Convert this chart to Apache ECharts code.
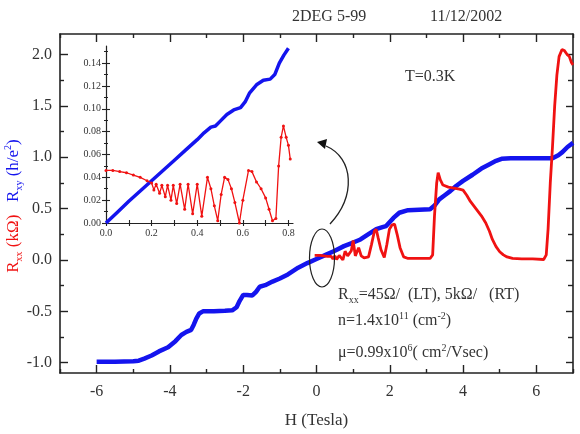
<!DOCTYPE html>
<html lang="en">
<head>
<meta charset="UTF-8">
<title>2DEG 5-99</title>
<script src="https://cdn.jsdelivr.net/npm/echarts@6/dist/echarts.min.js"></script>
<style>html,body{margin:0;padding:0;background:#fff}</style>
</head>
<body>
<div id="main" style="width:580px;height:434px"></div>
<script>
var FONT = '"Liberation Serif", "Times New Roman", serif';
var BLUE = '#1414ee';
var RED = '#f01212';
var INK = '#333';

// main plot: Hall resistance Rxy (h/e^2) vs H (Tesla)
var hXY = [-6.0,-5.5,-5.0,-4.85,-4.7,-4.5,-4.3,-4.05,-3.85,-3.69,-3.55,-3.42,-3.35,-3.28,-3.2,-3.1,-2.8,-2.5,-2.3,-2.18,-2.1,-2.0,-1.9,-1.75,-1.65,-1.55,-1.4,-1.2,-1.0,-0.78,-0.5,-0.25,0,0.25,0.5,0.75,1.0,1.2,1.45,1.63,1.8,1.9,2.0,2.1,2.26,2.5,2.8,3.1,3.22,3.35,3.5,3.65,3.81,4.0,4.26,4.5,4.71,4.9,5.05,5.3,5.8,6.44,6.6,6.71,6.85,7.0];
var rXY = [-0.99,-0.99,-0.985,-0.98,-0.96,-0.93,-0.89,-0.85,-0.79,-0.73,-0.70,-0.68,-0.63,-0.57,-0.52,-0.50,-0.50,-0.495,-0.49,-0.46,-0.40,-0.34,-0.34,-0.345,-0.31,-0.26,-0.245,-0.21,-0.18,-0.14,-0.075,-0.03,0.01,0.05,0.09,0.135,0.17,0.20,0.26,0.30,0.32,0.33,0.37,0.41,0.46,0.485,0.49,0.495,0.53,0.59,0.63,0.67,0.72,0.77,0.83,0.89,0.93,0.965,0.985,0.99,0.99,0.99,1.02,1.05,1.10,1.14];

// main plot: longitudinal resistance Rxx (kOhm) vs H (Tesla)
var hXX = [-0.05,0.1,0.2,0.3,0.35,0.4,0.45,0.5,0.55,0.62,0.72,0.78,0.85,0.95,1.0,1.06,1.15,1.22,1.3,1.42,1.5,1.58,1.63,1.68,1.76,1.85,1.92,1.99,2.06,2.13,2.2,2.28,2.38,2.5,2.8,3.1,3.17,3.22,3.28,3.32,3.38,3.45,3.6,3.75,3.9,4.0,4.1,4.2,4.35,4.5,4.62,4.72,4.8,4.9,5.0,5.1,5.2,5.35,5.6,5.9,6.2,6.27,6.32,6.38,6.44,6.5,6.56,6.62,6.7,6.76,6.84,6.9,6.96,7.0];
var rXX = [0.045,0.045,0.04,0.035,0.02,0.035,0.01,0.04,0.005,0.045,0.0,0.085,0.04,0.09,0.19,0.04,0.12,0.04,0.02,0.03,0.15,0.28,0.30,0.22,0.10,0.025,0.15,0.30,0.34,0.35,0.25,0.12,0.03,0.015,0.015,0.015,0.05,0.43,0.75,0.85,0.78,0.73,0.71,0.70,0.69,0.68,0.63,0.57,0.50,0.43,0.36,0.28,0.20,0.13,0.08,0.05,0.03,0.015,0.01,0.01,0.005,0.05,0.3,0.75,1.1,1.5,1.8,1.98,2.05,2.04,2.0,1.98,1.92,1.9];

// inset: low field detail
var insetHXY = [0,0.05,0.1,0.15,0.2,0.25,0.3,0.35,0.4,0.43,0.46,0.48,0.5,0.53,0.56,0.59,0.61,0.63,0.66,0.69,0.72,0.74,0.76,0.78,0.8];
var insetRXY = [0,0.0095,0.019,0.028,0.037,0.046,0.055,0.064,0.073,0.079,0.084,0.085,0.089,0.095,0.099,0.101,0.106,0.114,0.121,0.125,0.126,0.130,0.140,0.147,0.153];
var insetHXX = [0,0.03,0.06,0.09,0.12,0.15,0.18,0.2,0.21,0.22,0.235,0.245,0.26,0.27,0.285,0.295,0.31,0.325,0.345,0.36,0.38,0.40,0.42,0.445,0.46,0.475,0.49,0.505,0.52,0.535,0.55,0.565,0.585,0.60,0.625,0.64,0.66,0.68,0.70,0.715,0.73,0.745,0.757,0.768,0.778,0.79,0.80,0.808];
var insetRXX = [0.046,0.046,0.045,0.044,0.042,0.040,0.037,0.035,0.029,0.034,0.026,0.033,0.023,0.033,0.020,0.033,0.017,0.034,0.012,0.034,0.008,0.034,0.006,0.040,0.030,0.015,0.002,0.025,0.040,0.038,0.030,0.018,0.000,0.020,0.046,0.045,0.036,0.030,0.022,0.012,0.002,0.004,0.050,0.075,0.085,0.075,0.068,0.056];

// ticks
var xMajor = [-6,-4,-2,0,2,4,6];
var xMinor = [-7,-5,-3,-1,1,3,5,7];
var yMajor = [-1,-0.5,0,0.5,1,1.5,2];
var yMinor = [-0.75,-0.25,0.25,0.75,1.25,1.75];
var insetXTicks = [0,0.1,0.2,0.3,0.4,0.5,0.6,0.7,0.8];
var insetXLabels = [0,0.2,0.4,0.6,0.8];
var insetYLabels = [0,0.02,0.04,0.06,0.08,0.10,0.12,0.14];
var insetYMinor = [0.01,0.03,0.05,0.07,0.09,0.11,0.13,0.15];

function zip(a, b) {
    var out = [];
    for (var i = 0; i < a.length; i++) out.push([a[i], b[i]]);
    return out;
}

// one value axis; several of these are stacked to get major/minor and crossing ticks
function axis(grid, pos, min, max, ticks, len, inside, showLine, labels, fmt, size, margin) {
    return {
        type: 'value', gridIndex: grid, position: pos, min: min, max: max,
        axisLine: {show: showLine, onZero: false, lineStyle: {color: '#222', width: grid === 0 ? 1.6 : 1.2}},
        axisTick: {show: true, inside: inside, length: len, customValues: ticks,
            lineStyle: {color: '#222', width: grid === 0 ? 1.4 : 1.1}},
        axisLabel: labels ? {show: true, customValues: labels, formatter: fmt, color: INK,
            fontFamily: FONT, fontSize: size, margin: margin} : {show: false},
        splitLine: {show: false}
    };
}

var chart = echarts.init(document.getElementById('main'));

var xAxes = [
    axis(0, 'bottom', -7, 7, xMajor, 8, true, true, xMajor, function (v) { return String(v); }, 16, 11),
    axis(0, 'bottom', -7, 7, xMinor, 4, true, false),
    axis(0, 'top', -7, 7, xMajor, 8, true, true),
    axis(0, 'top', -7, 7, xMinor, 4, true, false),
    axis(1, 'bottom', 0, 0.82, insetXTicks, 3, false, true, insetXLabels, function (v) { return v.toFixed(1); }, 10, 5),
    axis(1, 'bottom', 0, 0.82, insetXTicks, 3, true, false)
];
xAxes[0].name = 'H (Tesla)';
xAxes[0].nameLocation = 'middle';
xAxes[0].nameGap = 39;
xAxes[0].nameTextStyle = {color: INK, fontFamily: FONT, fontSize: 17};

var yAxes = [
    axis(0, 'left', -1.1, 2.2, yMajor, 8, true, true, yMajor, function (v) { return v.toFixed(1); }, 16, 8),
    axis(0, 'left', -1.1, 2.2, yMinor, 4, true, false),
    axis(0, 'right', -1.1, 2.2, yMajor, 7, true, true),
    axis(0, 'right', -1.1, 2.2, yMinor, 5, true, false),
    axis(1, 'left', 0, 0.155, insetYLabels, 4, false, true, insetYLabels, function (v) { return v.toFixed(2); }, 10, 5),
    axis(1, 'left', 0, 0.155, insetYLabels, 4, true, false),
    axis(1, 'left', 0, 0.155, insetYMinor, 2, false, false),
    axis(1, 'left', 0, 0.155, insetYMinor, 2, true, false)
];

// rich text pieces for graphic texts (zrender uses fill, not color)
function richText(size, color) {
    return {
        n: {fontFamily: FONT, fontSize: size, fill: color, lineHeight: size + 4},
        s: {fontFamily: FONT, fontSize: Math.round(size * 0.6), fill: color, lineHeight: 10, verticalAlign: 'bottom'},
        p: {fontFamily: FONT, fontSize: Math.round(size * 0.6), fill: color, lineHeight: 10, verticalAlign: 'top'}
    };
}

var yNameRich = {
    r: {fontFamily: FONT, fontSize: 17, fill: RED, lineHeight: 21},
    rs: {fontFamily: FONT, fontSize: 10, fill: RED, lineHeight: 10, verticalAlign: 'bottom'},
    b: {fontFamily: FONT, fontSize: 17, fill: BLUE, lineHeight: 21},
    bs: {fontFamily: FONT, fontSize: 10, fill: BLUE, lineHeight: 10, verticalAlign: 'bottom'},
    bp: {fontFamily: FONT, fontSize: 10, fill: BLUE, lineHeight: 10, verticalAlign: 'top'}
};

var textStyle = function (txt, size) {
    return {text: txt, rich: richText(size, INK), font: size + 'px ' + FONT, fill: INK,
        align: 'left', verticalAlign: 'middle'};
};

var option = {
    animation: false,
    backgroundColor: '#fff',
    grid: [
        {left: 60, top: 34, right: 7, bottom: 61},
        {left: 106, top: 46, width: 187, height: 177}
    ],
    xAxis: xAxes,
    yAxis: yAxes,
    series: [
        {type: 'line', xAxisIndex: 0, yAxisIndex: 0, data: zip(hXY, rXY), showSymbol: false,
            lineStyle: {color: BLUE, width: 4.5}, itemStyle: {color: BLUE}, z: 3},
        {type: 'line', xAxisIndex: 0, yAxisIndex: 0, data: zip(hXX, rXX), showSymbol: false,
            lineStyle: {color: RED, width: 2.8}, itemStyle: {color: RED}, z: 4},
        {type: 'line', xAxisIndex: 4, yAxisIndex: 4, data: zip(insetHXY, insetRXY), showSymbol: false,
            lineStyle: {color: BLUE, width: 3.5}, itemStyle: {color: BLUE}, z: 3},
        {type: 'line', xAxisIndex: 4, yAxisIndex: 4, data: zip(insetHXX, insetRXX), showSymbol: true,
            symbol: 'circle', symbolSize: 3, lineStyle: {color: RED, width: 1.3}, itemStyle: {color: RED}, z: 4}
    ],
    graphic: [
        {type: 'text', x: 292, y: 17, style: textStyle('2DEG 5-99', 16)},
        {type: 'text', x: 430, y: 17, style: textStyle('11/12/2002', 16)},
        {type: 'text', x: 405, y: 77, style: textStyle('T=0.3K', 16)},
        {type: 'text', x: 338, y: 295, style: textStyle('{n|R}{s|xx}{n|=45Ω/  (LT), 5kΩ/   (RT)}', 16)},
        {type: 'text', x: 338, y: 321, style: textStyle('{n|n=1.4x10}{p|11}{n| (cm}{p|-2}{n|)}', 16)},
        {type: 'text', x: 338, y: 353, style: textStyle('{n|μ=0.99x10}{p|6}{n|( cm}{p|2}{n|/Vsec)}', 16)},
        {type: 'text', x: 14, y: 206, rotation: Math.PI / 2,
            style: {text: '{r|R}{rs|xx}{r| (kΩ)   }{b|R}{bs|xy}{b| (h/e}{bp|2}{b|)}', rich: yNameRich,
                align: 'center', verticalAlign: 'middle'}},
        {type: 'ellipse', shape: {cx: 322, cy: 258, rx: 12.5, ry: 29},
            style: {fill: 'none', stroke: '#222', lineWidth: 1.2}, z: 10},
        {type: 'bezierCurve', shape: {x1: 330, y1: 224, cpx1: 356, cpy1: 196, cpx2: 354, cpy2: 158, x2: 326, y2: 146},
            style: {fill: 'none', stroke: '#222', lineWidth: 1.3}, z: 10},
        {type: 'polygon', shape: {points: [[317, 142], [327, 139], [325, 149]]},
            style: {fill: '#111'}, z: 10}
    ]
};
chart.setOption(option);
</script>
</body>
</html>
